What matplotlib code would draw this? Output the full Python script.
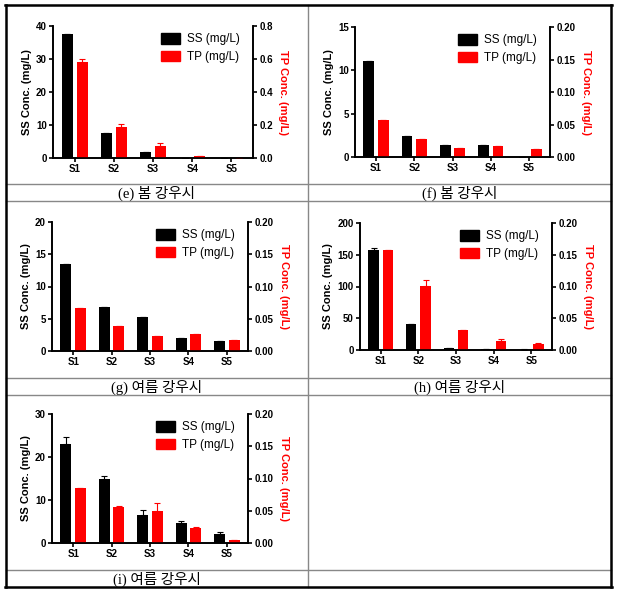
import matplotlib
matplotlib.use("Agg")
from matplotlib import pyplot as plt
from matplotlib.lines import Line2D
import numpy as np

plt.rcParams['font.family'] = ['Liberation Sans', 'DejaVu Sans']

sites = ['S1', 'S2', 'S3', 'S4', 'S5']

# (e) spring rain
ss_e = [37.7, 7.5, 1.8, 0.0, 0.0]
ss_e_err = [0, 0, 0, 0, 0]
tp_e = [0.58, 0.187, 0.075, 0.015, 0.0]
tp_e_err = [0.022, 0.02, 0.014, 0, 0]

# (f) spring rain
ss_f = [11.1, 2.45, 1.35, 1.35, 0.0]
ss_f_err = [0, 0, 0, 0, 0]
tp_f = [0.057, 0.027, 0.0145, 0.0165, 0.012]
tp_f_err = [0, 0, 0, 0, 0]

# (g) summer rain
ss_g = [13.55, 6.75, 5.25, 2.05, 1.55]
ss_g_err = [0, 0, 0, 0, 0]
tp_g = [0.066, 0.0395, 0.0225, 0.027, 0.0175]
tp_g_err = [0, 0, 0, 0, 0]

# (h) summer rain
ss_h = [158, 40.5, 2.6, 1.5, 0.5]
ss_h_err = [3, 1, 0.6, 0.5, 0.3]
tp_h = [0.157, 0.101, 0.031, 0.0147, 0.0094]
tp_h_err = [0, 0.009, 0, 0.003, 0.002]

# (i) summer rain
ss_i = [23.0, 14.85, 6.5, 4.65, 2.15]
ss_i_err = [1.7, 0.75, 1.15, 0.45, 0.3]
tp_i = [0.085, 0.0565, 0.05, 0.0235, 0.0042]
tp_i_err = [0.001, 0.0015, 0.012, 0.001, 0.001]

captions = ['(e) 봄 강우시', '(f) 봄 강우시', '(g) 여름 강우시', '(h) 여름 강우시', '(i) 여름 강우시']

W, H = 621, 594
fig = plt.figure(figsize=(W / 100, H / 100), dpi=100)


def px_axes(left, top, right, bottom):
    return fig.add_axes([left / W, 1 - bottom / H, (right - left) / W, (bottom - top) / H])


def draw_panel(box, ss, ss_err, tp, tp_err, ss_max, ss_step, tp_max, tp_step, tp_fmt):
    ax = px_axes(*box)
    ax2 = ax.twinx()
    x = np.arange(len(sites))
    w = 0.28
    zeros = [0] * len(sites)
    ax.bar(x - 0.19, ss, w, color='black', yerr=[zeros, ss_err],
           error_kw=dict(ecolor='black', elinewidth=0.8, capsize=2.5, capthick=0.8))
    ax2.bar(x + 0.19, tp, w, color='#ff0000', yerr=[zeros, tp_err],
            error_kw=dict(ecolor='#ff0000', elinewidth=0.8, capsize=2.5, capthick=0.8))
    ax.set_xlim(-0.55, 4.55)
    ax.set_ylim(0, ss_max)
    ax2.set_ylim(0, tp_max)
    ax.set_yticks(np.arange(0, ss_max + ss_step / 2, ss_step))
    ax2.set_yticks(np.arange(0, tp_max + tp_step / 2, tp_step))
    ax2.set_yticklabels([tp_fmt.format(v) for v in ax2.get_yticks()])
    ax.set_xticks(x)
    ax.set_xticklabels(sites)
    for a in (ax, ax2):
        a.spines['top'].set_visible(False)
        for s in a.spines.values():
            s.set_linewidth(1.2)
        a.tick_params(length=3, width=1.2, labelsize=7, pad=1.5)
        for lab in a.get_xticklabels() + a.get_yticklabels():
            lab.set_fontweight('bold')
    ax.set_ylabel('SS Conc. (mg/L)', fontsize=8, fontweight='bold', labelpad=3)
    ax2.set_ylabel('TP Conc. (mg/L)', fontsize=8, fontweight='bold', color='#ff0000',
                   rotation=270, labelpad=11)
    handles = [plt.Rectangle((0, 0), 1, 1, color='black'),
               plt.Rectangle((0, 0), 1, 1, color='#ff0000')]
    ax.legend(handles, ['SS (mg/L)', 'TP (mg/L)'], loc='upper right',
              bbox_to_anchor=(0.97, 1.0), frameon=False, fontsize=8.5,
              handlelength=1.6, handleheight=1.0, handletextpad=0.6,
              labelspacing=0.45, borderaxespad=0.2)
    return ax


draw_panel((53, 26, 253, 158), ss_e, ss_e_err, tp_e, tp_e_err, 40, 10, 0.8, 0.2, '{:.1f}')
draw_panel((355, 27, 550, 157), ss_f, ss_f_err, tp_f, tp_f_err, 15, 5, 0.2, 0.05, '{:.2f}')
draw_panel((52, 222, 248, 351), ss_g, ss_g_err, tp_g, tp_g_err, 20, 5, 0.2, 0.05, '{:.2f}')
draw_panel((360, 223, 552, 350), ss_h, ss_h_err, tp_h, tp_h_err, 200, 50, 0.2, 0.05, '{:.2f}')
draw_panel((52, 414, 248, 543), ss_i, ss_i_err, tp_i, tp_i_err, 30, 10, 0.2, 0.05, '{:.2f}')

# table frame
def hline(y, x0=6, x1=611, color='#888888', lw=1.0):
    fig.add_artist(Line2D([x0 / W, x1 / W], [1 - y / H, 1 - y / H], color=color, lw=lw))


def vline(x, y0, y1, color='#888888', lw=1.0):
    fig.add_artist(Line2D([x / W, x / W], [1 - y0 / H, 1 - y1 / H], color=color, lw=lw))


for y in (184, 201, 378, 395, 570):
    hline(y)
vline(308, 5, 587)
# outer border
hline(5, 5, 612, 'black', 1.8)
hline(587, 5, 612, 'black', 1.8)
vline(6, 5, 587, 'black', 1.8)
vline(611, 5, 587, 'black', 1.8)

cap_pos = [(157, 193), (460, 193), (157, 387), (460, 387), (157, 579)]
for (cx, cy), txt in zip(cap_pos, captions):
    fig.text(cx / W, 1 - cy / H, txt, ha='center', va='center', fontsize=10.5,
             family=['Liberation Serif', 'Noto Sans CJK KR'])

fig.savefig('out.png', dpi=100)
